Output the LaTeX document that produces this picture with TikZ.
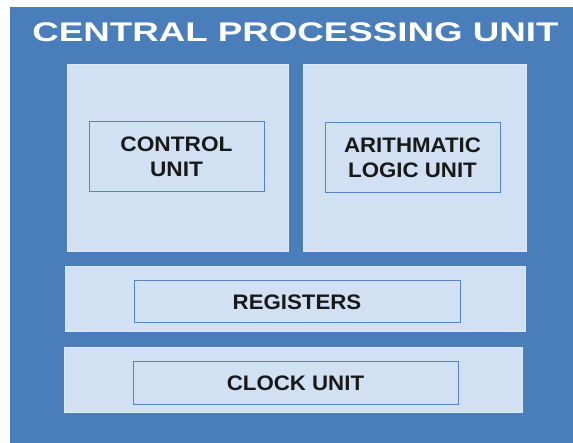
\documentclass[tikz,border=0pt]{standalone}
\usepackage{fontspec}
\usepackage{graphicx}
\setmainfont{Liberation Sans}
\definecolor{cpublue}{HTML}{4A7EBB}
\definecolor{panelfill}{HTML}{D2E0F3}
\definecolor{boxline}{HTML}{5585C2}
\begin{document}
\begin{tikzpicture}[x=1pt,y=-1pt,
  panel/.style={fill=panelfill,draw=panelfill!70!white,line width=1pt},
  unitbox/.style={draw=boxline,fill=panelfill,line width=1pt,inner sep=0pt,
    align=center,font=\fontsize{21}{25}\selectfont\bfseries,text=black!90},
  ]
\useasboundingbox (0,0) rectangle (573,443);
\fill[white] (0,0) rectangle (573,443);
\fill[cpublue] (10,7) rectangle (573,443);
\node[anchor=base,text=white,inner sep=0pt] (title) at (295.5,42)
  {\fontsize{27}{30}\selectfont\bfseries\scalebox{1.36}[1]{CENTRAL PROCESSING UNIT}};
% panels
\draw[panel] (67,65) rectangle (288,252);
\draw[panel] (303,65) rectangle (526,252);
\draw[panel] (65,267) rectangle (525,332);
\draw[panel] (64,348) rectangle (522,413);
% inner units
\node[unitbox,minimum width=175pt,minimum height=70pt] (cu) at (176.5,157)
  {\scalebox{1.08}[1]{CONTROL}\\\scalebox{1.08}[1]{UNIT}};
\node[unitbox,minimum width=175pt,minimum height=70pt] (alu) at (412.5,158)
  {\scalebox{1.06}[1]{ARITHMATIC}\\\scalebox{1.06}[1]{LOGIC UNIT}};
\node[unitbox,minimum width=326pt,minimum height=42pt] (reg) at (297,302)
  {\scalebox{1.06}[1]{REGISTERS}};
\node[unitbox,minimum width=325pt,minimum height=43pt] (clk) at (295.5,383.5)
  {\scalebox{1.06}[1]{CLOCK UNIT}};
\end{tikzpicture}
\end{document}
